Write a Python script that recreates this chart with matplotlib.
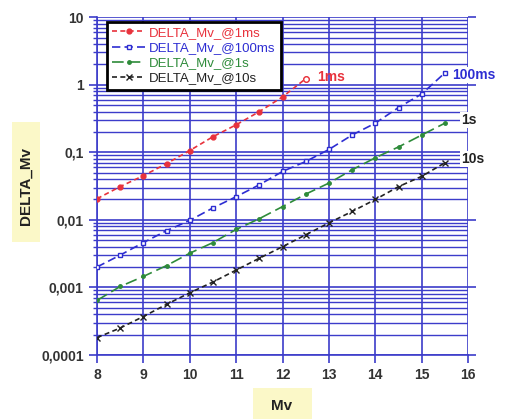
import matplotlib
matplotlib.use("Agg")
import matplotlib.pyplot as plt
from matplotlib.patches import Rectangle
from matplotlib.ticker import LogLocator, FixedLocator, FuncFormatter, NullFormatter

# Values
mv = [8, 8.5, 9, 9.5, 10, 10.5, 11, 11.5, 12, 12.5, 13, 13.5, 14, 14.5, 15, 15.5]

mv_1ms = [8, 8.5, 9, 9.5, 10, 10.5, 11, 11.5, 12, 12.5]
delta_1ms = [0.0205, 0.031, 0.045, 0.068, 0.106, 0.17, 0.255, 0.40, 0.66, 1.23]

delta_100ms = [0.002, 0.003, 0.0046, 0.0069, 0.0098, 0.015, 0.022, 0.033,
               0.052, 0.073, 0.11, 0.18, 0.27, 0.46, 0.73, 1.5]
delta_1s = [0.00064, 0.00103, 0.00145, 0.0021, 0.0032, 0.0046, 0.0072, 0.0104,
            0.0157, 0.024, 0.035, 0.055, 0.083, 0.12, 0.18, 0.27]
delta_10s = [0.00018, 0.00025, 0.00037, 0.00056, 0.00083, 0.0012, 0.0018, 0.0027,
             0.004, 0.006, 0.009, 0.0133, 0.02, 0.031, 0.044, 0.07]

y_ticks = [1e-4, 1e-3, 1e-2, 1e-1, 1, 10]
y_tick_labels = ["0,0001", "0,001", "0,01", "0,1", "1", "10"]
x_ticks = [8, 9, 10, 11, 12, 13, 14, 15, 16]

GRID = "#3c3cca"
RED = "#e8323c"
BLUE = "#2d2dd2"
GREEN = "#2e8b3a"
BLACK = "#222222"
PALE = "#fbf8c8"

plt.rcParams["font.family"] = ["Liberation Sans", "DejaVu Sans"]

fig = plt.figure(figsize=(5.05, 4.19), dpi=100)
ax = fig.add_axes([0.192, 0.153, 0.735, 0.806])

ax.set_yscale("log")
ax.set_xlim(8, 16)
ax.set_ylim(1e-4, 10)

# grid
ax.xaxis.set_major_locator(FixedLocator(x_ticks))
ax.yaxis.set_major_locator(FixedLocator(y_ticks))
ax.yaxis.set_minor_locator(LogLocator(base=10, subs=range(2, 10)))
ax.yaxis.set_minor_formatter(NullFormatter())
ax.yaxis.set_major_formatter(FuncFormatter(
    lambda v, p: y_tick_labels[y_ticks.index(v)] if v in y_ticks else ""))
ax.grid(True, which="major", color=GRID, lw=1.2)
ax.grid(True, which="minor", axis="y", color=GRID, lw=1.0)
ax.set_axisbelow(True)

for side in ["top", "right"]:
    ax.spines[side].set_visible(False)
for side in ["left", "bottom"]:
    ax.spines[side].set_color(GRID)
    ax.spines[side].set_linewidth(1.2)

ax.tick_params(axis="both", which="major", colors=GRID, labelcolor="#333333",
               labelsize=10, length=6, width=1.2)
ax.tick_params(axis="y", which="minor", colors=GRID, length=3, width=1.0)
ax.tick_params(axis="y", which="major", right=True, direction="out")
for lbl in ax.get_xticklabels() + ax.get_yticklabels():
    lbl.set_fontweight("bold")

# series
ax.plot(mv_1ms, delta_1ms, color=RED, ls=(0, (3, 2)), lw=1.2, marker="o",
        ms=3.5, mfc=RED, mec=RED, label="DELTA_Mv_@1ms", zorder=5)
ax.plot(mv_1ms[-1], delta_1ms[-1], ls="none", marker="o", ms=4, mfc="white",
        mec=RED, zorder=6)
ax.plot(mv, delta_100ms, color=BLUE, ls=(0, (5, 2.5)), lw=1.2, marker="s",
        ms=3.5, mfc="white", mec=BLUE, label="DELTA_Mv_@100ms", zorder=5)
ax.plot(mv, delta_1s, color=GREEN, ls=(0, (7, 3)), lw=1.2, marker="o",
        ms=2.5, mfc=GREEN, mec=GREEN, label="DELTA_Mv_@1s", zorder=5)
ax.plot(mv, delta_10s, color=BLACK, ls=(0, (3, 2)), lw=1.2, marker="x",
        ms=5, mec=BLACK, label="DELTA_Mv_@10s", zorder=5)

# curve labels
ax.text(12.75, 1.3, "1ms", color=RED, fontsize=10, fontweight="bold",
        va="center", ha="left", zorder=7)
ax.text(15.65, 1.4, "100ms", color=BLUE, fontsize=10, fontweight="bold",
        va="center", ha="left", zorder=7, clip_on=False,
        bbox=dict(fc="white", ec="none", pad=0.5))
ax.text(15.85, 0.3, "1s", color=BLACK, fontsize=10, fontweight="bold",
        va="center", ha="left", zorder=7, clip_on=False,
        bbox=dict(fc="white", ec="none", pad=0.5))
ax.text(15.85, 0.08, "10s", color=BLACK, fontsize=10, fontweight="bold",
        va="center", ha="left", zorder=7, clip_on=False,
        bbox=dict(fc="white", ec="none", pad=0.5))

leg = ax.legend(loc="upper left", bbox_to_anchor=(0.02, 0.995), fontsize=9.5,
                handlelength=2.5, handletextpad=0.3, labelspacing=0.22,
                borderpad=0.4, borderaxespad=0.2, fancybox=False, framealpha=1)
leg.get_frame().set_edgecolor("black")
leg.get_frame().set_linewidth(2.0)
for txt, col in zip(leg.get_texts(), [RED, BLUE, GREEN, BLACK]):
    txt.set_color(col)
leg.set_zorder(10)

# axis titles on pale yellow boxes
W, H = 505.0, 419.0
fig.patches.append(Rectangle((12 / W, 1 - 242 / H), 28 / W, 120 / H,
                             transform=fig.transFigure, fc=PALE, ec="none"))
fig.patches.append(Rectangle((253 / W, 0), 59 / W, 31 / H,
                             transform=fig.transFigure, fc=PALE, ec="none"))
fig.text(26 / W, 1 - 186 / H, "DELTA_Mv", rotation=90, fontsize=11,
         fontweight="bold", ha="center", va="center", color="#222222")
fig.text(282 / W, 1 - 406 / H, "Mv", fontsize=11, fontweight="bold",
         ha="center", va="center", color="#222222")

fig.savefig("out.png", dpi=100)
